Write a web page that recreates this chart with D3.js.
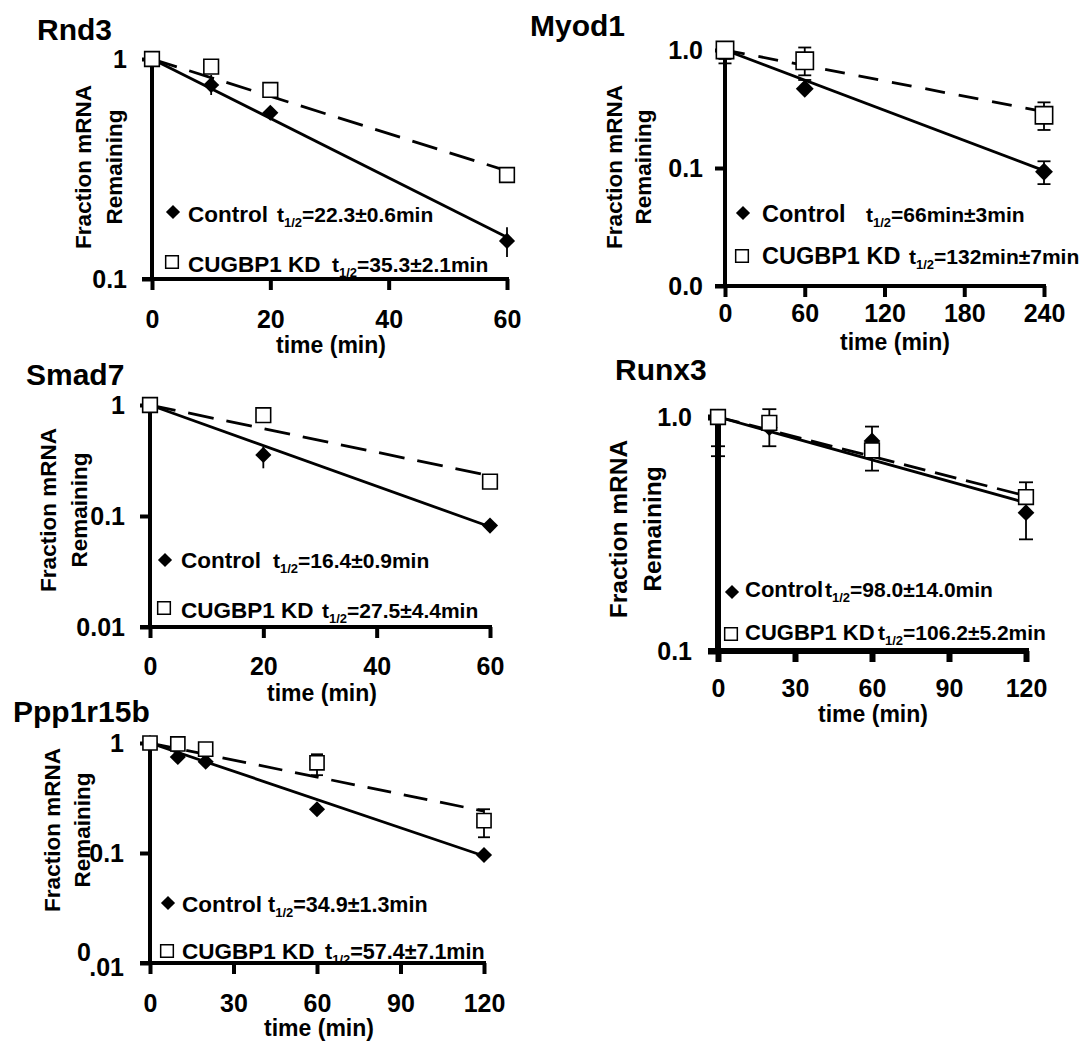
<!DOCTYPE html>
<html><head><meta charset="utf-8">
<script src="https://cdn.jsdelivr.net/npm/d3@7"></script>
<style>
body{margin:0;background:#fff}
svg{display:block;background:#fff}
text{font-family:"Liberation Sans",Arial,Helvetica,sans-serif;font-weight:bold;fill:#000}
</style>
</head><body>
<svg id="c" width="1083" height="1041"></svg>
<script>
// ---------------- DATA ----------------
const seriesNames = ["Control", "CUGBP1 KD"];

// Rnd3
const rnd3Time = [0, 10, 20, 60];
const rnd3Control = [1, 0.762, 0.57, 0.149];
const rnd3ControlHi = [null, 0.846, null, 0.172];
const rnd3ControlLo = [null, 0.686, null, 0.126];
const rnd3KD = [1, 0.923, 0.723, 0.297];
const rnd3KDHi = [null, null, null, null];
const rnd3KDLo = [null, null, null, null];
const rnd3FitTime = [0, 60];
const rnd3FitControl = [1, 0.155];
const rnd3FitKD = [1, 0.31];
const rnd3XTicks = [0, 20, 40, 60];
const rnd3YTicks = [1, 0.1];
const rnd3YLabels = ["1", "0.1"];
const rnd3Half = ["=22.3±0.6min", "=35.3±2.1min"];

// Myod1
const myod1Time = [0, 60, 240];
const myod1Control = [1, 0.47, 0.093];
const myod1ControlHi = [null, 0.557, 0.114];
const myod1ControlLo = [0.77, null, 0.073];
const myod1KD = [1, 0.81, 0.28];
const myod1KDHi = [null, 1.05, 0.36];
const myod1KDLo = [0.84, 0.61, 0.21];
const myod1FitTime = [0, 240];
const myod1FitControl = [1, 0.095];
const myod1FitKD = [1, 0.30];
const myod1XTicks = [0, 60, 120, 180, 240];
const myod1YTicks = [1, 0.1, 0.01];
const myod1YLabels = ["1.0", "0.1", "0.0"];
const myod1Half = ["=66min±3min", "=132min±7min"];

// Smad7
const smad7Time = [0, 20, 60];
const smad7Control = [1, 0.355, 0.082];
const smad7ControlHi = [null, 0.42, null];
const smad7ControlLo = [null, 0.269, null];
const smad7KD = [1, 0.81, 0.204];
const smad7KDHi = [null, null, null];
const smad7KDLo = [null, null, null];
const smad7FitTime = [0, 60];
const smad7FitControl = [1, 0.08];
const smad7FitKD = [1, 0.23];
const smad7XTicks = [0, 20, 40, 60];
const smad7YTicks = [1, 0.1, 0.01];
const smad7YLabels = ["1", "0.1", "0.01"];
const smad7Half = ["=16.4±0.9min", "=27.5±4.4min"];

// Runx3
const runx3Time = [0, 20, 60, 120];
const runx3Control = [1, 0.9, 0.79, 0.39];
const runx3ControlHi = [null, null, 0.91, null];
const runx3ControlLo = [0.68, null, null, 0.30];
const runx3KD = [1, 0.944, 0.72, 0.455];
const runx3KDHi = [null, 1.08, null, 0.526];
const runx3KDLo = [0.75, 0.75, 0.59, null];
const runx3FitTime = [0, 120];
const runx3FitControl = [1, 0.43];
const runx3FitKD = [1, 0.46];
const runx3XTicks = [0, 30, 60, 90, 120];
const runx3YTicks = [1, 0.1];
const runx3YLabels = ["1.0", "0.1"];
const runx3Half = ["=98.0±14.0min", "=106.2±5.2min"];

// Ppp1r15b
const pppTime = [0, 10, 20, 60, 120];
const pppControl = [1, 0.746, 0.676, 0.25, 0.096];
const pppControlHi = [null, null, null, null, null];
const pppControlLo = [null, null, null, null, null];
const pppKD = [1, 0.98, 0.88, 0.66, 0.197];
const pppKDHi = [null, null, null, 0.79, 0.25];
const pppKDLo = [null, null, null, 0.51, 0.139];
const pppFitTime = [0, 120];
const pppFitControl = [1, 0.094];
const pppFitKD = [1, 0.24];
const pppXTicks = [0, 30, 60, 90, 120];
const pppYTicks = [1, 0.1, 0.01];
const pppYLabels = ["1", "0.1", "0|.01"];
const pppHalf = ["=34.9±1.3min", "=57.4±7.1min"];

// ---------------- PANELS (data + layout) ----------------
const panels = [
  { title: "Rnd3", time: rnd3Time, control: rnd3Control, cHi: rnd3ControlHi, cLo: rnd3ControlLo,
    kd: rnd3KD, kHi: rnd3KDHi, kLo: rnd3KDLo, fitT: rnd3FitTime, fitC: rnd3FitControl, fitK: rnd3FitKD,
    xTicks: rnd3XTicks, yTicks: rnd3YTicks, yLabels: rnd3YLabels, half: rnd3Half,
    L: { xRange: [152, 507], yRange: [279, 59], axisW: 4, xPad: 21, yPad: 16, titleX: 37, titleY: 40,
         xtX: 331, xtY: 345, ylX1: 83, ylX2: 114, ylY: 167, ylSize: 22.5, capW: 0, dash: "26,13",
         mD: 130, mS: 215, legX: 173, legY1: 212, legY2: 262, legB1: 222, legB2: 272, legTX: 188,
         h1X: 277, h2X: 332, legFont: 22.5, halfFont: 21 } },
  { title: "Myod1", time: myod1Time, control: myod1Control, cHi: myod1ControlHi, cLo: myod1ControlLo,
    kd: myod1KD, kHi: myod1KDHi, kLo: myod1KDLo, fitT: myod1FitTime, fitC: myod1FitControl, fitK: myod1FitKD,
    xTicks: myod1XTicks, yTicks: myod1YTicks, yLabels: myod1YLabels, half: myod1Half,
    L: { xRange: [725, 1044], yRange: [286, 50], axisW: 4, xPad: 8, yPad: 13, titleX: 530, titleY: 36,
         xtX: 895, xtY: 342, ylX1: 614, ylX2: 643, ylY: 167, ylSize: 22.5, capW: 13, dash: "20,14",
         mD: 160, mS: 300, legX: 743, legY1: 213, legY2: 256, legB1: 222, legB2: 264, legTX: 762,
         h1X: 866, h2X: 909, legFont: 23.5, halfFont: 21 } },
  { title: "Smad7", time: smad7Time, control: smad7Control, cHi: smad7ControlHi, cLo: smad7ControlLo,
    kd: smad7KD, kHi: smad7KDHi, kLo: smad7KDLo, fitT: smad7FitTime, fitC: smad7FitControl, fitK: smad7FitKD,
    xTicks: smad7XTicks, yTicks: smad7YTicks, yLabels: smad7YLabels, half: smad7Half,
    L: { xRange: [150, 490], yRange: [627, 405], axisW: 4, xPad: 20, yPad: 16, titleX: 26, titleY: 385,
         xtX: 322, xtY: 693, ylX1: 48, ylX2: 79, ylY: 510, ylSize: 22.5, capW: 0, dash: "26,13",
         mD: 130, mS: 215, legX: 165, legY1: 560, legY2: 608, legB1: 568, legB2: 618, legTX: 181,
         h1X: 273, h2X: 322, legFont: 22.5, halfFont: 21 } },
  { title: "Runx3", time: runx3Time, control: runx3Control, cHi: runx3ControlHi, cLo: runx3ControlLo,
    kd: runx3KD, kHi: runx3KDHi, kLo: runx3KDLo, fitT: runx3FitTime, fitC: runx3FitControl, fitK: runx3FitKD,
    xTicks: runx3XTicks, yTicks: runx3YTicks, yLabels: runx3YLabels, half: runx3Half,
    L: { xRange: [718, 1026], yRange: [651, 417], axisW: 6, xPad: 18, yPad: 17, titleX: 615, titleY: 380,
         xtX: 873, xtY: 714, ylX1: 618, ylX2: 652, ylY: 529, ylSize: 24.5, capW: 14, dash: "22,10",
         mD: 140, mS: 215, legX: 732, legY1: 592, legY2: 634, legB1: 597, legB2: 640, legTX: 745,
         h1X: 825, h2X: 878, legFont: 22, halfFont: 21 } },
  { title: "Ppp1r15b", time: pppTime, control: pppControl, cHi: pppControlHi, cLo: pppControlLo,
    kd: pppKD, kHi: pppKDHi, kLo: pppKDLo, fitT: pppFitTime, fitC: pppFitControl, fitK: pppFitKD,
    xTicks: pppXTicks, yTicks: pppYTicks, yLabels: pppYLabels, half: pppHalf,
    L: { xRange: [150, 484], yRange: [963, 743], axisW: 4, xPad: 21, yPad: 17, titleX: 13, titleY: 722,
         xtX: 319, xtY: 1028, ylX1: 52, ylX2: 82, ylY: 830, ylSize: 22.5, capW: 12, dash: "24,13",
         mD: 130, mS: 200, legX: 168, legY1: 903, legY2: 951, legB1: 912, legB2: 959, legTX: 182,
         h1X: 268, h2X: 325, legFont: 22.5, halfFont: 21.5 } }
];

const svg = d3.select("#c");
panels.forEach(drawPanel);

function drawPanel(p) {
  const L = p.L;
  const x = d3.scaleLinear().domain([p.xTicks[0], p.xTicks[p.xTicks.length - 1]]).range(L.xRange);
  const y = d3.scaleLog().domain([p.yTicks[p.yTicks.length - 1], p.yTicks[0]]).range(L.yRange);
  const g = svg.append("g");

  // title
  g.append("text").attr("x", L.titleX).attr("y", L.titleY).style("font-size", "30px").text(p.title);

  // y-axis title (two lines)
  [["Fraction mRNA", L.ylX1], ["Remaining", L.ylX2]].forEach(([t, xx]) => {
    g.append("text").attr("transform", `translate(${xx},${L.ylY}) rotate(-90)`)
      .attr("text-anchor", "middle").attr("dominant-baseline", "central")
      .style("font-size", L.ylSize + "px").text(t);
  });

  // x axis title
  g.append("text").attr("x", L.xtX).attr("y", L.xtY).attr("text-anchor", "middle")
    .attr("dominant-baseline", "central").style("font-size", "23px").text("time (min)");

  // x axis
  const xAxis = d3.axisBottom(x).tickValues(p.xTicks).tickFormat(d3.format("d"))
    .tickSize(11).tickSizeOuter(0).tickPadding(L.xPad - 1);
  const gx = g.append("g").attr("transform", `translate(0,${L.yRange[0]})`).call(xAxis);
  gx.select(".domain").remove();
  gx.selectAll(".tick line").attr("stroke", "#000").attr("stroke-width", L.axisW);
  gx.selectAll(".tick text").style("font-size", "25px");
  gx.append("line").attr("x1", L.xRange[0] - 10).attr("x2", L.xRange[1] + L.axisW / 2)
    .attr("y1", 0).attr("y2", 0).attr("stroke", "#000").attr("stroke-width", L.axisW);

  // y axis
  const yAxis = d3.axisLeft(y).tickValues(p.yTicks).tickFormat((d, i) => p.yLabels[i])
    .tickSize(10).tickSizeOuter(0).tickPadding(L.yPad - 1);
  const gy = g.append("g").attr("transform", `translate(${L.xRange[0]},0)`).call(yAxis);
  gy.select(".domain").remove();
  gy.selectAll(".tick line").attr("stroke", "#000").attr("stroke-width", L.axisW);
  gy.selectAll(".tick text").style("font-size", "25px").each(function (d, i) {
    const lab = p.yLabels[i];
    if (lab.indexOf("|") >= 0) {
      const parts = lab.split("|");
      d3.select(this).text(parts[1]).attr("dy", "0.32em").attr("y", 4);
      d3.select(this.parentNode).append("text").attr("x", -(9 + L.yPad + 33)).attr("y", -11)
        .attr("dy", "0.32em").attr("text-anchor", "end").attr("fill", "currentColor")
        .style("font-size", "25px").text(parts[0]);
    }
  });
  gy.append("line").attr("x1", 0).attr("x2", 0).attr("y1", L.yRange[1]).attr("y2", L.yRange[0])
    .attr("stroke", "#000").attr("stroke-width", L.axisW);

  // fit lines
  const fitData = (vals) => p.fitT.map((t, i) => [t, vals[i]]);
  const line = d3.line().x(d => x(d[0])).y(d => y(d[1]));
  g.append("path").attr("d", line(fitData(p.fitC))).attr("fill", "none")
    .attr("stroke", "#000").attr("stroke-width", 2.8);
  g.append("path").attr("d", line(fitData(p.fitK))).attr("fill", "none")
    .attr("stroke", "#000").attr("stroke-width", 2.8).attr("stroke-dasharray", L.dash);

  // error bars
  function errBars(vals, hi, lo) {
    p.time.forEach((t, i) => {
      if (hi[i] == null && lo[i] == null) return;
      const top = hi[i] != null ? hi[i] : vals[i];
      const bot = lo[i] != null ? lo[i] : vals[i];
      const cx = x(t);
      g.append("line").attr("x1", cx).attr("x2", cx).attr("y1", y(top)).attr("y2", y(bot))
        .attr("stroke", "#000").attr("stroke-width", 1.8);
      if (L.capW > 0) {
        [hi[i], lo[i]].forEach(v => {
          if (v == null) return;
          g.append("line").attr("x1", cx - L.capW / 2).attr("x2", cx + L.capW / 2)
            .attr("y1", y(v)).attr("y2", y(v)).attr("stroke", "#000").attr("stroke-width", 1.8);
        });
      }
    });
  }
  errBars(p.control, p.cHi, p.cLo);
  errBars(p.kd, p.kHi, p.kLo);

  // markers
  const diamond = d3.symbol(d3.symbolSquare, L.mD)();
  const square = d3.symbol(d3.symbolSquare, L.mS)();
  g.selectAll(null).data(p.time.map((t, i) => [t, p.control[i]])).enter().append("path")
    .attr("d", diamond).attr("transform", d => `translate(${x(d[0])},${y(d[1])}) rotate(45)`)
    .attr("fill", "#000");
  g.selectAll(null).data(p.time.map((t, i) => [t, p.kd[i]])).enter().append("path")
    .attr("d", square).attr("transform", d => `translate(${x(d[0])},${y(d[1])})`)
    .attr("fill", "#fff").attr("stroke", "#000").attr("stroke-width", 1.6);

  // legend
  g.append("path").attr("d", d3.symbol(d3.symbolSquare, 100)())
    .attr("transform", `translate(${L.legX},${L.legY1}) rotate(45)`).attr("fill", "#000");
  g.append("path").attr("d", d3.symbol(d3.symbolSquare, 160)())
    .attr("transform", `translate(${L.legX - 1},${L.legY2})`)
    .attr("fill", "#fff").attr("stroke", "#000").attr("stroke-width", 1.5);
  g.append("text").attr("x", L.legTX).attr("y", L.legB1).style("font-size", L.legFont + "px")
    .text(seriesNames[0]);
  g.append("text").attr("x", L.legTX).attr("y", L.legB2).style("font-size", L.legFont + "px")
    .text(seriesNames[1]);
  [[L.h1X, L.legB1, p.half[0]], [L.h2X, L.legB2, p.half[1]]].forEach(([hx, hy, s]) => {
    const t = g.append("text").attr("x", hx).attr("y", hy).style("font-size", L.halfFont + "px");
    t.append("tspan").text("t");
    t.append("tspan").attr("dy", 5).style("font-size", "13px").text("1/2");
    t.append("tspan").attr("dy", -5).text(s);
  });
}
</script>
</body></html>
